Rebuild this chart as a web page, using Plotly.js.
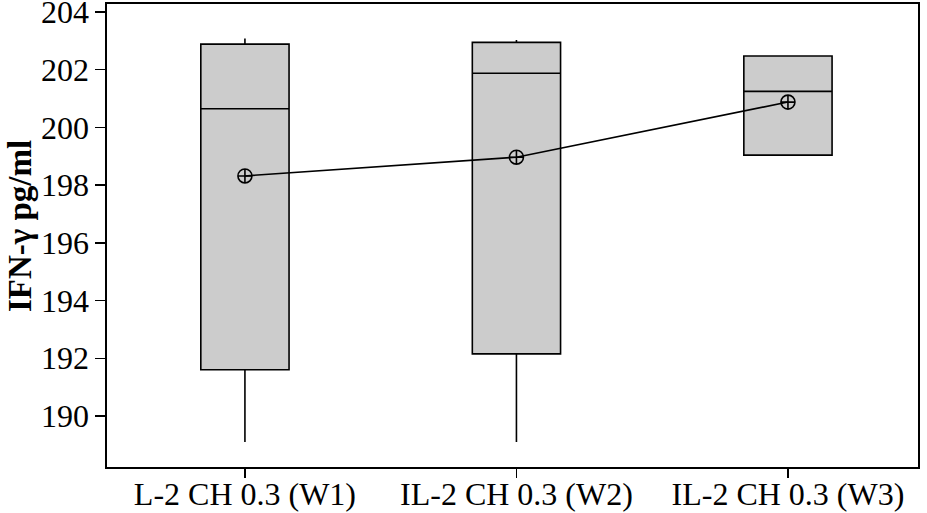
<!DOCTYPE html>
<html><head><meta charset="utf-8">
<script src="https://cdn.plot.ly/plotly-3.0.1.min.js"></script>
<style>body{margin:0;background:#fff}#c{width:927px;height:513px}</style>
</head><body><div id="c"></div>
<script>
var categories = ["L-2 CH 0.3 (W1)", "IL-2 CH 0.3 (W2)", "IL-2 CH 0.3 (W3)"];
var lowerWhisker = [189.1, 189.1, 199.04];
var q1Values = [191.6, 192.15, 199.04];
var medianValues = [200.65, 201.88, 201.25];
var q3Values = [202.89, 202.95, 202.48];
var upperWhisker = [203.08, 203.03, 202.48];
var meanValues = [198.32, 198.97, 200.88];
var yTicks = [190, 192, 194, 196, 198, 200, 202, 204];
var yTitle = 'IFN-γ pg/ml';

var traces = [{
  type: 'box', x: categories,
  q1: q1Values, median: medianValues, q3: q3Values,
  lowerfence: lowerWhisker, upperfence: upperWhisker,
  fillcolor: '#cccccc', line: {color: '#000', width: 1.6},
  whiskerwidth: 0, width: 0.325, boxpoints: false, hoverinfo: 'skip', showlegend: false
}, {
  type: 'scatter', mode: 'lines+markers', x: categories, y: meanValues,
  line: {color: '#000', width: 1.6},
  marker: {symbol: 'circle-cross-open', size: 14, color: '#000', line: {color: '#000', width: 1.6}},
  showlegend: false
}];

var layout = {
  width: 927, height: 513,
  margin: {l: 107, r: 9, t: 4, b: 46},
  paper_bgcolor: '#fff', plot_bgcolor: '#fff',
  font: {family: 'Liberation Serif, serif', color: '#000', size: 32},
  xaxis: {
    type: 'category', range: [-0.508, 2.479],
    showline: true, mirror: true, linecolor: '#000', linewidth: 1.6,
    ticks: 'outside', ticklen: 9, tickwidth: 1.4, tickcolor: '#000',
    showgrid: false, zeroline: false, tickfont: {size: 32},
    ticklabeloverflow: 'allow', automargin: false, ticklabelstandoff: -11
  },
  yaxis: {
    range: [188.23, 204.28], tickvals: yTicks,
    showline: true, mirror: true, linecolor: '#000', linewidth: 1.6,
    ticks: 'outside', ticklen: 10, tickwidth: 1.4, tickcolor: '#000',
    showgrid: false, zeroline: false, tickfont: {size: 32},
    ticklabeloverflow: 'allow', automargin: false
  },
  annotations: [{
    text: '<b>' + yTitle + '</b>', textangle: -90, showarrow: false,
    xref: 'paper', yref: 'paper', x: -0.1073, y: 0.5205,
    xanchor: 'center', yanchor: 'middle', font: {size: 33}
  }]
};
Plotly.newPlot('c', traces, layout, {staticPlot: true});
</script></body></html>
